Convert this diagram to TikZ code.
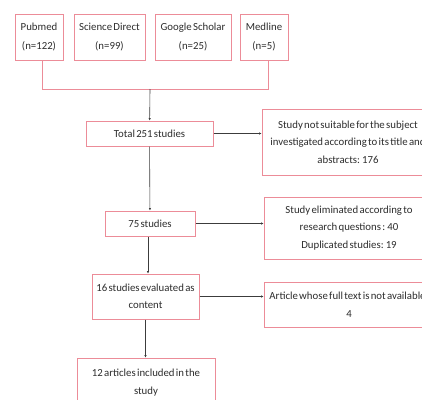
\documentclass[tikz,border=0pt]{standalone}
\usepackage{fontspec}
\setmainfont{Carlito}
\usetikzlibrary{arrows.meta}
\definecolor{boxred}{RGB}{236,140,152}
\definecolor{linegray}{RGB}{60,60,60}
\definecolor{textgray}{RGB}{45,45,45}
\newcommand\boxfont{\fontsize{10.8}{17.5}\selectfont\spaceskip 1.3pt plus 0.5pt\relax}
\newcommand\dbfont{\fontsize{10.8}{19.5}\selectfont\spaceskip 1.3pt plus 0.5pt\relax}
\tikzset{
  flowbox/.style={draw=boxred, line width=1pt, fill=white, align=center,
    inner sep=2pt, text=textgray, font=\boxfont},
  dbbox/.style={flowbox, minimum height=46pt, font=\dbfont},
  flowline/.style={draw=linegray, line width=0.6pt},
  flowarrow/.style={flowline, -{Latex[length=2.5pt,width=2.5pt]}}
}
\begin{document}
\begin{tikzpicture}[x=1pt, y=-1pt]
    % Area of the picture
    \useasboundingbox (0,0) rectangle (422,399);
    \clip (0,0) rectangle (422,399);

    % Databases in the first row
    \node[dbbox, minimum width=48pt] (pubmed) at (39,37) {Pubmed\\(n=122)};
    \node[dbbox, minimum width=71pt] (science) at (109.5,37) {Science Direct\\(n=99)};
    \node[dbbox, minimum width=76pt] (scholar) at (193,37) {Google Scholar\\(n=25)};
    \node[dbbox, minimum width=48pt] (medline) at (264,37) {Medline\\(n=5)};

    % Main steps
    \node[flowbox, minimum width=127pt, minimum height=25pt] (total) at (149.5,133.5) {Total 251 studies};
    \node[flowbox, minimum width=90pt, minimum height=25pt] (seventyfive) at (150,223.5) {75 studies};
    \node[flowbox, minimum width=107pt, minimum height=45pt] (sixteen) at (145.5,296.5) {16 studies evaluated as\\content};
    \node[flowbox, minimum width=138pt, minimum height=49pt] (twelve) at (146,382.5) {12 articles included in the\\study};

    % Excluded records on the right
    \node[flowbox, minimum width=172pt, minimum height=66pt] (notsuit) at (348,142) {Study not suitable for the subject\\investigated according to its title and\\abstracts: 176};
    \node[flowbox, minimum width=170pt, minimum height=62pt] (elim) at (349,228) {Study eliminated according to\\research questions : 40\\Duplicated studies: 19};
    \node[flowbox, minimum width=170pt, minimum height=45pt] (notavail) at (349,304.5) {Article whose full text is not available:\\4};

    % Joining line under the databases
    \coordinate (bus) at (150,89);
    \draw[draw=boxred, line width=1pt] ([xshift=3pt]pubmed.south) -- ([xshift=3pt]pubmed.south |- bus)
        -- ([xshift=4pt]medline.south |- bus) -- ([xshift=4pt]medline.south);

    % Arrows down the flow
    \draw[flowarrow] (bus) -- (total);
    \draw[flowarrow] (total) -- (seventyfive);
    \draw[flowarrow] ([xshift=-2pt]seventyfive.south) -- ([xshift=2.5pt]sixteen.north);
    \draw[flowarrow] (sixteen) -- (twelve.north -| sixteen.south);

    % Arrows to the right
    \draw[flowarrow] (total) -- (total -| notsuit.west);
    \draw[flowarrow] (seventyfive) -- (seventyfive -| elim.west);
    \draw[flowarrow] (sixteen) -- (sixteen -| notavail.west);
\end{tikzpicture}
\end{document}
